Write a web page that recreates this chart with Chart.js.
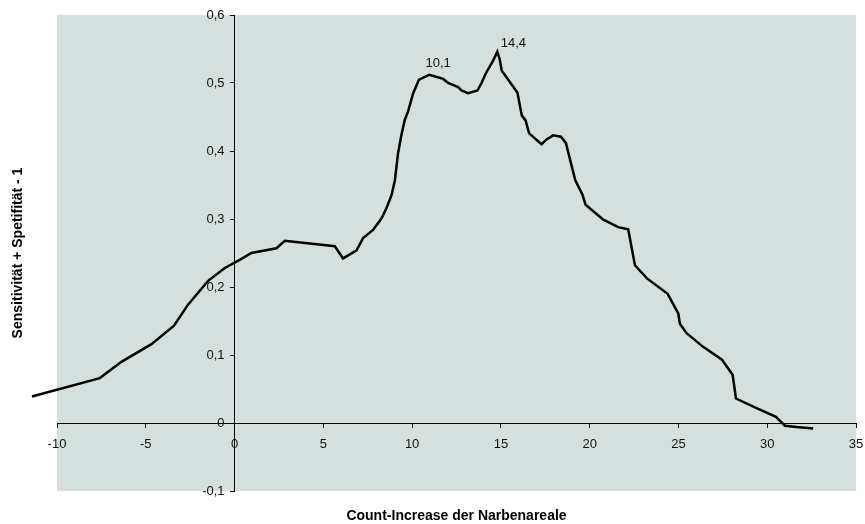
<!DOCTYPE html>
<html>
<head>
<meta charset="utf-8">
<script src="https://cdn.jsdelivr.net/npm/chart.js@4/dist/chart.umd.min.js"></script>
<style>
  html, body { margin: 0; padding: 0; background: #ffffff; }
  #wrap { width: 865px; height: 524px; }
</style>
</head>
<body>
<div id="wrap"><canvas id="c" width="865" height="524"></canvas></div>
<script>
// Count-Increase (x) against Sensitivität + Spetifität - 1 (y)
const countIncrease = [
  -11.41, -7.59, -6.37, -4.68, -3.41, -2.62, -1.49, -0.55, 0.29, 0.95,
  2.36, 2.83, 5.65, 6.11, 6.87, 7.24, 7.80, 8.28, 8.56, 8.84,
  9.03, 9.21, 9.40, 9.59, 9.77, 10.06, 10.39, 10.96, 11.75, 12.03,
  12.59, 12.78, 13.15, 13.68, 13.91, 14.15, 14.56, 14.80, 14.94, 15.05,
  15.93, 16.18, 16.39, 16.59, 17.29, 17.57, 17.94, 18.38, 18.66, 19.19,
  19.59, 19.77, 20.77, 21.61, 22.17, 22.55, 23.21, 24.39, 24.99, 25.08,
  25.46, 26.39, 27.45, 28.05, 28.24, 29.40, 30.49, 31.00, 31.66, 32.59
];
const youdenIndex = [
  0.039, 0.066, 0.090, 0.116, 0.143, 0.174, 0.209, 0.228, 0.240, 0.250,
  0.257, 0.268, 0.260, 0.242, 0.254, 0.272, 0.284, 0.301, 0.316, 0.335,
  0.357, 0.397, 0.424, 0.446, 0.458, 0.485, 0.505, 0.512, 0.506, 0.500,
  0.494, 0.489, 0.485, 0.489, 0.500, 0.514, 0.533, 0.546, 0.534, 0.518,
  0.486, 0.452, 0.445, 0.426, 0.410, 0.417, 0.423, 0.421, 0.412, 0.357,
  0.336, 0.321, 0.299, 0.288, 0.285, 0.232, 0.213, 0.190, 0.161, 0.146,
  0.132, 0.112, 0.093, 0.071, 0.036, 0.022, 0.009, -0.004, -0.006, -0.008
];
// Notes written next to the two maxima
const peakNotes = ['10,1', '14,4'];
const peakIndex = [27, 37];

const xTitle = 'Count-Increase der Narbenareale';
const yTitle = 'Sensitivität + Spetifität - 1';

const points = countIncrease.map((x, i) => ({ x: x, y: youdenIndex[i] }));

Chart.defaults.font.family = "'Liberation Sans', Arial, sans-serif";
Chart.defaults.color = '#111111';

const fmt = (v) => {
  if (Math.abs(v) < 1e-9) return '0';
  return v.toFixed(1).replace('.', ',');
};

const decorations = {
  id: 'decorations',
  beforeDraw(chart) {
    const { ctx, chartArea: a } = chart;
    ctx.save();
    ctx.fillStyle = '#ffffff';
    ctx.fillRect(0, 0, chart.width, chart.height);
    ctx.fillStyle = '#d5dfdd';
    ctx.fillRect(a.left, a.top, a.right - a.left, a.bottom - a.top);
    ctx.restore();
  },
  afterDraw(chart) {
    const { ctx, chartArea: a, scales } = chart;

    // y tick labels, set off to the left of the crossing axis
    ctx.save();
    ctx.fillStyle = '#111111';
    ctx.font = "13px 'Liberation Sans', Arial, sans-serif";
    ctx.textAlign = 'right';
    ctx.textBaseline = 'middle';
    const axisX = scales.x.getPixelForValue(0);
    scales.y.ticks.forEach((t) => {
      ctx.fillText(fmt(t.value), axisX - 10, scales.y.getPixelForValue(t.value));
    });
    ctx.restore();

    // axis titles
    ctx.save();
    ctx.fillStyle = '#000000';
    ctx.font = "bold 14px 'Liberation Sans', Arial, sans-serif";
    ctx.textAlign = 'center';
    ctx.textBaseline = 'middle';
    ctx.fillText(xTitle, (a.left + a.right) / 2, 516);
    ctx.translate(18, (a.top + a.bottom) / 2);
    ctx.rotate(-Math.PI / 2);
    ctx.fillText(yTitle, 0, 0);
    ctx.restore();

    // notes at the maxima
    ctx.save();
    ctx.fillStyle = '#111111';
    ctx.font = "13px 'Liberation Sans', Arial, sans-serif";
    ctx.textAlign = 'center';
    ctx.textBaseline = 'middle';
    const offsets = [[9, -11], [16, -8]];
    peakNotes.forEach((txt, k) => {
      const i = peakIndex[k];
      const px = scales.x.getPixelForValue(countIncrease[i]);
      const py = scales.y.getPixelForValue(youdenIndex[i]);
      ctx.fillText(txt, px + offsets[k][0], py + offsets[k][1]);
    });
    ctx.restore();
  }
};

new Chart(document.getElementById('c'), {
  type: 'scatter',
  data: {
    datasets: [{
      data: points,
      showLine: true,
      borderColor: '#000000',
      borderWidth: 2.5,
      pointRadius: 0,
      pointHoverRadius: 0,
      tension: 0,
      fill: false,
      clip: false
    }]
  },
  options: {
    responsive: false,
    animation: false,
    events: [],
    layout: { padding: { left: 57, right: 9, top: 15, bottom: 33 } },
    plugins: {
      legend: { display: false },
      tooltip: { enabled: false }
    },
    scales: {
      x: {
        type: 'linear',
        position: { y: 0 },
        min: -10,
        max: 35,
        afterFit: (s) => { s.height = 0; s.paddingLeft = 0; s.paddingRight = 0; },
        grid: { display: true, drawOnChartArea: false, drawTicks: true, tickLength: 4, color: '#000000' },
        border: { display: true, color: '#000000', width: 1 },
        ticks: {
          stepSize: 5,
          padding: 10,
          maxRotation: 0,
          font: { size: 13 },
          callback: (v) => String(v)
        }
      },
      y: {
        type: 'linear',
        position: { x: 0 },
        min: -0.1,
        max: 0.6,
        afterFit: (s) => { s.width = 0; s.paddingTop = 0; s.paddingBottom = 0; },
        grid: { display: true, drawOnChartArea: false, drawTicks: true, tickLength: 4, color: '#000000' },
        border: { display: true, color: '#000000', width: 1 },
        ticks: {
          stepSize: 0.1,
          color: 'rgba(0,0,0,0)',
          font: { size: 13 }
        }
      }
    }
  },
  plugins: [decorations]
});
</script>
</body>
</html>
